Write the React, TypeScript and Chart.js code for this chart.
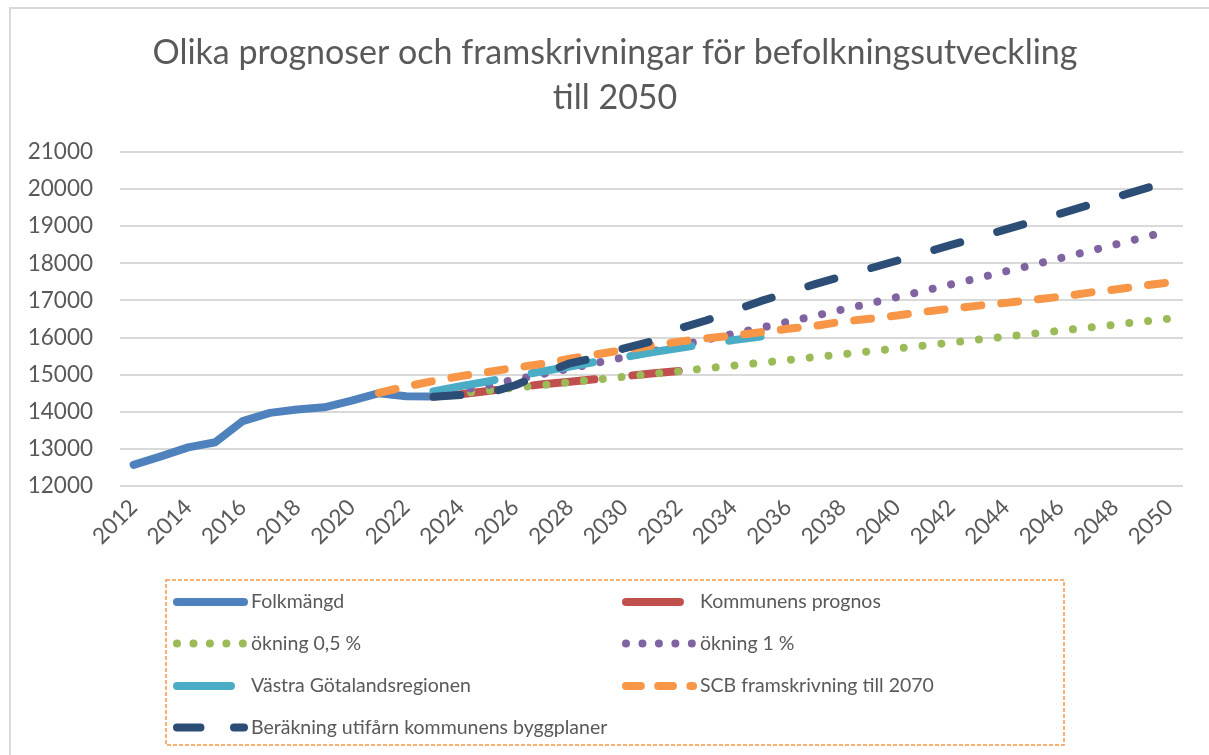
import React, { useEffect, useRef } from "react";
import { Chart, registerables } from "chart.js";

Chart.register(...registerables);

// ---------- data ----------
const years = [
  "2012", "2013", "2014", "2015", "2016", "2017", "2018", "2019", "2020", "2021",
  "2022", "2023", "2024", "2025", "2026", "2027", "2028", "2029", "2030", "2031",
  "2032", "2033", "2034", "2035", "2036", "2037", "2038", "2039", "2040", "2041",
  "2042", "2043", "2044", "2045", "2046", "2047", "2048", "2049", "2050",
];
const tickYears = [
  "2012", "2014", "2016", "2018", "2020", "2022", "2024", "2026", "2028", "2030",
  "2032", "2034", "2036", "2038", "2040", "2042", "2044", "2046", "2048", "2050",
];
const yTicks = [12000, 13000, 14000, 15000, 16000, 17000, 18000, 19000, 20000, 21000];

// Folkmängd 2012–2023
const folkmangd = [12570, 12800, 13040, 13180, 13750, 13970, 14060, 14120, 14300, 14500, 14420, 14410];
// Kommunens prognos 2023–2032
const kommunensPrognos = [14410, 14470, 14560, 14660, 14740, 14810, 14880, 14960, 15030, 15100];
// ökning 0,5 % 2023–2050
const okning05 = [
  14430, 14500, 14575, 14650, 14720, 14795, 14870, 14945, 15020, 15090,
  15170, 15245, 15320, 15395, 15475, 15550, 15630, 15705, 15785, 15865,
  15945, 16025, 16105, 16185, 16265, 16345, 16430, 16510,
];
// ökning 1 % 2023–2050
const okning1 = [
  14430, 14575, 14720, 14865, 15015, 15165, 15320, 15470, 15625, 15780,
  15940, 16100, 16260, 16425, 16585, 16755, 16920, 17090, 17260, 17435,
  17605, 17785, 17960, 18140, 18320, 18505, 18690, 18875,
];
// Västra Götalandsregionen 2023–2035
const vgr = [14550, 14690, 14820, 14960, 15090, 15220, 15350, 15470, 15600, 15720, 15830, 15930, 16030];
// SCB framskrivning till 2070, 2021–2050
const scb = [
  14510, 14680, 14830, 14960, 15070, 15190, 15290, 15430, 15550, 15670,
  15780, 15890, 15975, 16055, 16145, 16235, 16315, 16430, 16505, 16595,
  16695, 16780, 16860, 16935, 17015, 17100, 17205, 17295, 17395, 17485,
];
// Beräkning utifårn kommunens byggplaner 2023–2050
const byggplaner = [
  14405, 14455, 14500, 14715, 15020, 15305, 15470, 15710, 15900, 16240,
  16460, 16720, 16980, 17210, 17440, 17650, 17860, 18070, 18280, 18495,
  18705, 18915, 19130, 19340, 19560, 19775, 19995, 20210,
];

const seriesLabels = [
  "Folkmängd",
  "Kommunens prognos",
  "ökning 0,5 %",
  "ökning 1 %",
  "Västra Götalandsregionen",
  "SCB framskrivning till 2070",
  "Beräkning utifårn kommunens byggplaner",
];
const titleLines = ["Olika prognoser och framskrivningar för befolkningsutveckling", "till 2050"];

// ---------- styles ----------
const TEXT = "#595959";
const GRID = "#d9d9d9";
const FONT = "Lato";
const LW = 8;

const fillYears = (start: number, vals: number[]) =>
  years.map((y) => {
    const k = Number(y) - start;
    return k >= 0 && k < vals.length ? vals[k] : null;
  });

const legendPos = [
  { x: 173, y: 602 },
  { x: 622, y: 602 },
  { x: 173, y: 643.5 },
  { x: 622, y: 643.5 },
  { x: 173, y: 686 },
  { x: 622, y: 686 },
  { x: 173, y: 727.5 },
];

const framePlugin = {
  id: "frame",
  beforeDraw(chart: any) {
    const ctx = chart.ctx;
    ctx.save();
    ctx.fillStyle = "#ffffff";
    ctx.fillRect(0, 0, chart.width, chart.height);
    ctx.fillStyle = GRID;
    ctx.fillRect(9, 7, 2, chart.height - 7);
    ctx.fillRect(9, 7, chart.width - 9, 2);
    ctx.restore();
  },
  afterDraw(chart: any) {
    const ctx = chart.ctx;
    ctx.save();
    // title
    ctx.fillStyle = TEXT;
    ctx.font = `400 34px ${FONT}`;
    ctx.textAlign = "center";
    ctx.textBaseline = "alphabetic";
    ctx.fillText(titleLines[0], 615, 64);
    ctx.fillText(titleLines[1], 615, 109);

    // legend box
    ctx.strokeStyle = "#F79646";
    ctx.lineWidth = 1.5;
    ctx.setLineDash([4, 2]);
    ctx.strokeRect(166, 580, 898, 165);

    // legend items
    chart.data.datasets.forEach((ds: any, i: number) => {
      const p = legendPos[i];
      ctx.save();
      ctx.strokeStyle = ds.borderColor;
      ctx.lineWidth = LW;
      ctx.lineCap = "round";
      const dash = (ds.borderDash || []).map((d: number) => d * 0.87);
      ctx.setLineDash(dash);
      ctx.beginPath();
      ctx.moveTo(p.x + 4, p.y);
      ctx.lineTo(p.x + 71, p.y);
      ctx.stroke();
      ctx.restore();
      ctx.fillStyle = TEXT;
      ctx.font = `19.5px ${FONT}`;
      ctx.textAlign = "left";
      ctx.textBaseline = "middle";
      ctx.fillText(ds.label, p.x + 78, p.y);
    });
    ctx.restore();
  },
};

export default function App() {
  const ref = useRef<HTMLCanvasElement | null>(null);

  useEffect(() => {
    if (!ref.current) return;
    const common = {
      borderWidth: LW,
      borderCapStyle: "round",
      borderJoinStyle: "round",
      pointRadius: 0,
      fill: false,
      tension: 0,
      spanGaps: false,
    };
    const datasets: any[] = [
      { ...common, label: seriesLabels[0], data: fillYears(2012, folkmangd), borderColor: "#4F81BD", borderDash: [], order: 7 },
      { ...common, label: seriesLabels[1], data: fillYears(2023, kommunensPrognos), borderColor: "#C0504D", borderDash: [62, 38], order: 6 },
      { ...common, label: seriesLabels[2], data: fillYears(2023, okning05), borderColor: "#9BBB59", borderDash: [0.01, 18.9], order: 5 },
      { ...common, label: seriesLabels[3], data: fillYears(2023, okning1), borderColor: "#8064A2", borderDash: [0.01, 18.9], order: 4 },
      { ...common, label: seriesLabels[4], data: fillYears(2023, vgr), borderColor: "#4BACC6", borderDash: [62, 38], order: 3 },
      { ...common, label: seriesLabels[5], data: fillYears(2021, scb), borderColor: "#F79646", borderDash: [17, 20], order: 2 },
      { ...common, label: seriesLabels[6], data: fillYears(2023, byggplaner), borderColor: "#2C4D75", borderDash: [27, 38.5], order: 1 },
    ];

    const chart = new Chart(ref.current, {
      type: "line",
      data: { labels: years, datasets },
      options: {
        responsive: false,
        animation: false,
        events: [],
        layout: { padding: { left: 21, right: 26, top: 152, bottom: 189 } },
        plugins: {
          legend: { display: false },
          title: { display: false },
          tooltip: { enabled: false },
        },
        scales: {
          x: {
            offset: true,
            grid: { display: false, drawTicks: false },
            border: { display: false },
            ticks: {
              autoSkip: false,
              minRotation: 45,
              maxRotation: 45,
              padding: 8,
              color: TEXT,
              font: { family: FONT, size: 22.5 },
              callback: (_v: any, i: number) => (tickYears.includes(years[i]) ? years[i] : ""),
            },
            afterFit: (s: any) => {
              s.height = 80;
            },
          },
          y: {
            min: yTicks[0],
            max: yTicks[yTicks.length - 1],
            grid: { color: GRID, lineWidth: 2, drawTicks: false },
            border: { display: false },
            ticks: {
              stepSize: 1000,
              padding: 27,
              color: TEXT,
              font: { family: FONT, size: 22.5 },
              callback: (v: any) => String(v),
            },
            afterFit: (s: any) => {
              s.width = 99;
            },
          },
        },
      } as any,
      plugins: [framePlugin],
    });
    return () => chart.destroy();
  }, []);

  return (
    <div style={{ position: "fixed", left: 0, top: 0, width: 1209, height: 755, background: "#fff" }}>
      <canvas ref={ref} width={1209} height={755} style={{ display: "block" }} />
    </div>
  );
}
